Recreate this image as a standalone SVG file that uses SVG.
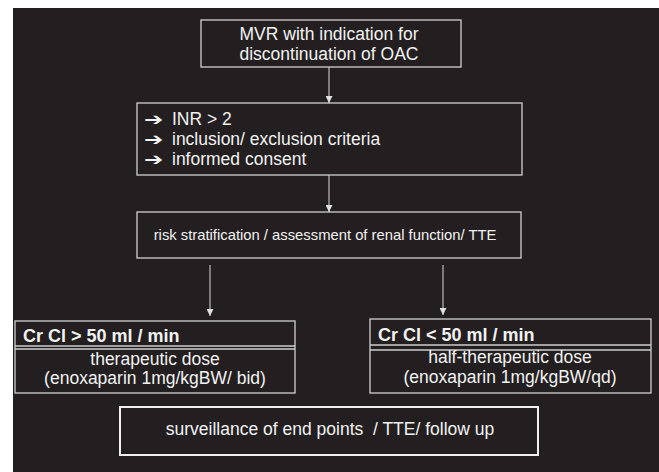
<svg xmlns="http://www.w3.org/2000/svg" width="659" height="472" viewBox="0 0 659 472">
<defs>
<marker id="ah" viewBox="0 0 8 8" refX="8" refY="4" markerWidth="7" markerHeight="7" markerUnits="userSpaceOnUse" orient="auto">
<path d="M0,0 L8,4 L0,8 Z" fill="#e0e0e0"/>
</marker>
</defs>
<style>
.box{fill:none;stroke:#cfcfcf;stroke-width:1.3}
.t{font-family:"Liberation Sans",Arial,sans-serif;fill:#f2f2f2;font-size:17.5px}
.a{font-family:"DejaVu Sans",sans-serif;fill:#f2f2f2;font-size:17px;font-weight:bold}
.c{text-anchor:middle}
.conn line{stroke:#d8d8d8;stroke-width:1}
</style>
<rect x="0" y="0" width="659" height="472" fill="#ffffff"/>
<rect x="13" y="8" width="646" height="464" fill="#231f20"/>
<g id="n1">
<rect class="box" x="201" y="20" width="260" height="47"/>
<text class="t c" x="329" y="40">MVR with indication for</text>
<text class="t c" x="329" y="60">discontinuation of OAC</text>
</g>
<g id="n2">
<rect class="box" x="137" y="103" width="385" height="72"/>
<text class="a" transform="translate(144,125) scale(1.35,1)">➔</text>
<text class="a" transform="translate(144,145) scale(1.35,1)">➔</text>
<text class="a" transform="translate(144,165) scale(1.35,1)">➔</text>
<text class="t" x="172" y="125">INR &gt; 2</text>
<text class="t" x="172" y="145">inclusion/ exclusion criteria</text>
<text class="t" x="172" y="165">informed consent</text>
</g>
<g id="n3">
<rect class="box" x="137" y="212" width="384" height="46"/>
<text class="t c" x="325" y="240" style="font-size:14.8px">risk stratification / assessment of renal function/ TTE</text>
</g>
<g id="n4">
<rect class="box" x="15" y="321" width="280" height="72"/>
<line class="box" x1="15" y1="346" x2="295" y2="346"/>
<line class="box" x1="15" y1="349" x2="295" y2="349"/>
<text class="t" x="23" y="342" style="font-size:18px" font-weight="bold">Cr Cl &gt; 50 ml / min</text>
<text class="t c" x="155" y="365">therapeutic dose</text>
<text class="t c" x="155" y="384">(enoxaparin 1mg/kgBW/ bid)</text>
</g>
<g id="n5">
<rect class="box" x="370" y="319" width="281" height="74"/>
<line class="box" x1="370" y1="345" x2="651" y2="345"/>
<line class="box" x1="370" y1="350" x2="651" y2="350"/>
<text class="t" x="378" y="341" style="font-size:18px" font-weight="bold">Cr Cl &lt; 50 ml / min</text>
<text class="t c" x="510" y="363">half-therapeutic dose</text>
<text class="t c" x="510" y="383">(enoxaparin 1mg/kgBW/qd)</text>
</g>
<g id="n6">
<rect x="120" y="407" width="418" height="48" fill="none" stroke="#f0f0f0" stroke-width="2"/>
<text class="t c" x="330" y="435">surveillance of end points &#160;/ TTE/ follow up</text>
</g>
<g class="conn" id="connectors">
<line x1="329" y1="67" x2="329" y2="103" marker-end="url(#ah)"/>
<line x1="329" y1="175" x2="329" y2="212" marker-end="url(#ah)"/>
<line x1="210" y1="265" x2="210" y2="316" marker-end="url(#ah)"/>
<line x1="443" y1="265" x2="443" y2="315" marker-end="url(#ah)"/>
</g>
</svg>
